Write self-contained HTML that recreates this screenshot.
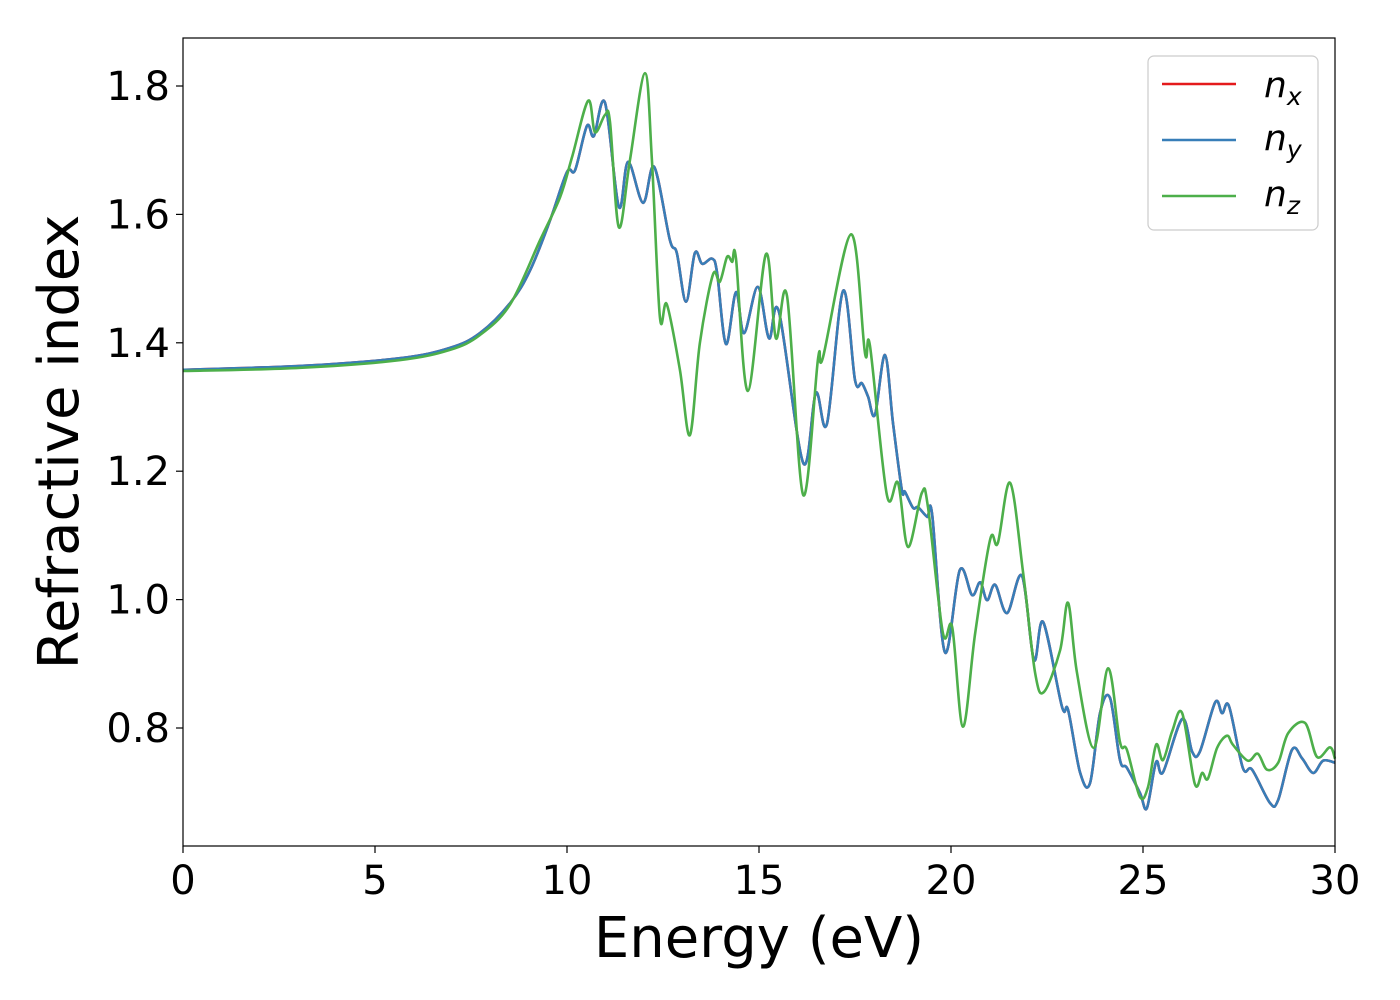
<!DOCTYPE html>
<html><head><meta charset="utf-8"><style>
html,body{margin:0;padding:0;background:#fff;}
svg{display:block;font-family:"DejaVu Sans","Liberation Sans",sans-serif;}
</style></head><body>
<svg id="chart" width="1400" height="1000">
<rect x="0" y="0" width="1400" height="1000" fill="#fff"/>
<g id="plot"></g>
<rect x="183" y="38" width="1152" height="808" fill="none" stroke="#000" stroke-width="1.2"/>
<g id="xt"></g>
<g id="yt"></g>
<text x="759" y="957" font-size="56" text-anchor="middle">Energy (eV)</text>
<text transform="translate(78,442) rotate(-90)" font-size="56" text-anchor="middle">Refractive index</text>
<g>
<rect x="1148" y="56" width="170" height="174" rx="6" fill="#fff" stroke="#ccc" stroke-width="1.2"/>
<g><line x1="1162" y1="84" x2="1236" y2="84" stroke="#e41a1c" stroke-width="2.5"/><text x="1264" y="97" font-size="36" font-style="italic">n<tspan font-size="25" dy="8">x</tspan></text></g>
<g><line x1="1162" y1="140" x2="1236" y2="140" stroke="#377eb8" stroke-width="2.5"/><text x="1264" y="150" font-size="36" font-style="italic">n<tspan font-size="25" dy="8">y</tspan></text></g>
<g><line x1="1162" y1="196" x2="1236" y2="196" stroke="#4daf4a" stroke-width="2.5"/><text x="1264" y="206" font-size="36" font-style="italic">n<tspan font-size="25" dy="8">z</tspan></text></g>
</g>
</svg>
<script>
const xTicks=[0,5,10,15,20,25,30];
const yTicks=[0.8,1.0,1.2,1.4,1.6,1.8];
const eXY=[0,3.05,5.65,6.95,7.73,8.52,9.04,9.56,10.0,10.21,10.52,10.70,10.99,11.35,11.59,11.98,12.27,12.68,12.86,13.10,13.33,13.52,13.78,13.91,14.14,14.40,14.61,14.97,15.26,15.52,16.15,16.48,16.77,17.19,17.50,17.68,17.84,18.02,18.28,18.49,18.72,18.80,19.01,19.14,19.38,19.51,19.84,20.23,20.55,20.76,20.94,21.15,21.46,21.85,22.16,22.40,22.89,23.05,23.36,23.62,23.88,24.14,24.40,24.58,24.92,25.10,25.34,25.52,26.02,26.28,26.48,26.88,27.06,27.24,27.60,27.84,28.31,28.52,28.88,29.14,29.43,29.69,30.0];
const nXY=[1.358,1.364,1.376,1.392,1.415,1.462,1.513,1.591,1.666,1.669,1.738,1.722,1.774,1.612,1.682,1.618,1.674,1.560,1.540,1.464,1.540,1.523,1.531,1.509,1.398,1.479,1.415,1.487,1.407,1.448,1.213,1.322,1.274,1.481,1.342,1.337,1.316,1.288,1.381,1.275,1.171,1.168,1.143,1.144,1.129,1.132,0.918,1.046,1.007,1.027,0.999,1.023,0.979,1.037,0.906,0.965,0.833,0.828,0.731,0.714,0.823,0.847,0.750,0.738,0.699,0.675,0.747,0.731,0.814,0.763,0.763,0.840,0.823,0.834,0.738,0.735,0.683,0.688,0.766,0.753,0.730,0.749,0.746];
const eZ=[0,3.05,5.65,6.95,7.73,8.52,9.30,9.82,10.13,10.55,10.73,10.99,11.12,11.35,11.64,12.03,12.21,12.42,12.60,12.94,13.20,13.46,13.80,13.98,14.17,14.30,14.40,14.71,15.18,15.44,15.73,16.15,16.54,16.67,17.40,17.76,17.89,18.33,18.62,18.88,19.24,19.40,19.79,20.03,20.31,20.63,21.02,21.22,21.54,21.88,22.19,22.42,22.84,23.05,23.28,23.72,24.09,24.40,24.58,24.92,25.13,25.34,25.52,25.76,26.02,26.35,26.54,26.69,26.93,27.19,27.34,27.73,27.99,28.23,28.52,28.78,29.22,29.53,29.87,30.0];
const nZ=[1.356,1.361,1.373,1.389,1.412,1.460,1.560,1.627,1.689,1.777,1.728,1.755,1.744,1.580,1.685,1.820,1.685,1.440,1.460,1.358,1.256,1.400,1.506,1.495,1.534,1.526,1.531,1.325,1.538,1.407,1.473,1.163,1.376,1.378,1.569,1.384,1.395,1.163,1.182,1.082,1.166,1.144,0.948,0.957,0.802,0.948,1.094,1.088,1.182,1.041,0.886,0.856,0.921,0.995,0.886,0.769,0.893,0.778,0.766,0.693,0.708,0.774,0.750,0.795,0.823,0.713,0.730,0.721,0.769,0.788,0.774,0.749,0.760,0.735,0.746,0.792,0.808,0.755,0.770,0.752];
const NS='http://www.w3.org/2000/svg';
const X0=183,X1=1335,E0=0,E1=30;
function xs(e){return X0+(e-E0)/(E1-E0)*(X1-X0);}
function ys(n){return 86+(1.8-n)*642;}
function pathD(es,ns){
  const p=es.map((e,i)=>[xs(e),ys(ns[i])]);
  let d='M'+p[0][0].toFixed(1)+','+p[0][1].toFixed(1);
  for(let i=0;i<p.length-1;i++){
    const a=p[Math.max(0,i-1)],b=p[i],c=p[i+1],q=p[Math.min(p.length-1,i+2)];
    const c1x=b[0]+(c[0]-a[0])/6,c1y=b[1]+(c[1]-a[1])/6;
    const c2x=c[0]-(q[0]-b[0])/6,c2y=c[1]-(q[1]-b[1])/6;
    d+=' C'+c1x.toFixed(1)+','+c1y.toFixed(1)+' '+c2x.toFixed(1)+','+c2y.toFixed(1)+' '+c[0].toFixed(1)+','+c[1].toFixed(1);
  }
  return d;
}
const plot=document.getElementById('plot');
const series=[['line-nx',eXY,nXY,'#e41a1c'],['line-ny',eXY,nXY,'#377eb8'],['line-nz',eZ,nZ,'#4daf4a']];
series.forEach(s=>{
  const el=document.createElementNS(NS,'path');
  el.setAttribute('d',pathD(s[1],s[2]));
  el.setAttribute('fill','none');
  el.setAttribute('stroke',s[3]);
  el.setAttribute('stroke-width','2.6');
  el.setAttribute('stroke-linejoin','round');
  
  
  plot.appendChild(el);
});
const xt=document.getElementById('xt');
xTicks.forEach(v=>{
  const x=xs(v);
  const l=document.createElementNS(NS,'line');
  l.setAttribute('x1',x);l.setAttribute('x2',x);l.setAttribute('y1',846);l.setAttribute('y2',853);
  l.setAttribute('stroke','#000');l.setAttribute('stroke-width','1.2');
  
  
  xt.appendChild(l);
  const t=document.createElementNS(NS,'text');
  t.setAttribute('x',x);t.setAttribute('y',894);t.setAttribute('font-size','40');t.setAttribute('text-anchor','middle');
  t.textContent=String(v);
  
  
  xt.appendChild(t);
});
const yt=document.getElementById('yt');
yTicks.forEach(v=>{
  const y=ys(v);
  const l=document.createElementNS(NS,'line');
  l.setAttribute('x1',176);l.setAttribute('x2',183);l.setAttribute('y1',y);l.setAttribute('y2',y);
  l.setAttribute('stroke','#000');l.setAttribute('stroke-width','1.2');
  
  
  yt.appendChild(l);
  const t=document.createElementNS(NS,'text');
  t.setAttribute('x',170);t.setAttribute('y',y+14);t.setAttribute('font-size','40');t.setAttribute('text-anchor','end');
  t.textContent=v.toFixed(1);
  
  
  yt.appendChild(t);
});
</script>
</body></html>
